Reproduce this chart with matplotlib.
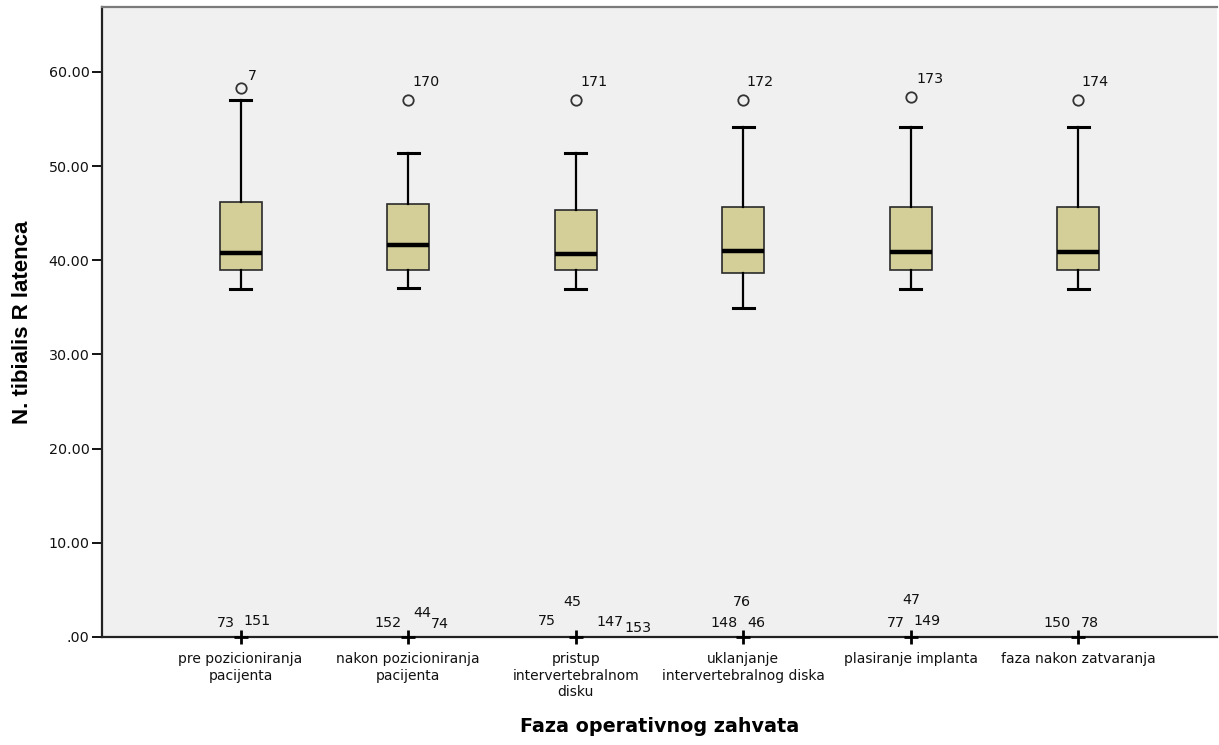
import matplotlib
matplotlib.use("Agg")
import matplotlib.pyplot as plt
from matplotlib.ticker import FuncFormatter, MultipleLocator

# ---- data -------------------------------------------------------------
categories = [
    "pre pozicioniranja\npacijenta",
    "nakon pozicioniranja\npacijenta",
    "pristup\nintervertebralnom\ndisku",
    "uklanjanje\nintervertebralnog diska",
    "plasiranje implanta",
    "faza nakon zatvaranja",
]
whisker_low = [37.0, 37.1, 37.0, 34.9, 37.0, 37.0]
q1 = [39.0, 39.0, 39.0, 38.7, 39.0, 39.0]
median = [40.8, 41.6, 40.7, 41.0, 40.9, 40.9]
q3 = [46.2, 46.0, 45.3, 45.7, 45.7, 45.7]
whisker_high = [57.0, 51.4, 51.4, 54.2, 54.2, 54.2]

outlier_values = [58.3, 57.0, 57.0, 57.0, 57.3, 57.0]
outlier_ids = ["7", "170", "171", "172", "173", "174"]

extreme_value = 0.0
extreme_ids = [
    ["73", "151"],
    ["152", "44", "74"],
    ["75", "45", "147", "153"],
    ["148", "76", "46"],
    ["77", "47", "149"],
    ["150", "78"],
]

# ---- label placement (offsets in pixels from the marker) ---------------
outlier_label_offsets = [(12, 12), (18, 18), (18, 18), (17, 18), (19, 18), (17, 18)]
extreme_label_offsets = [
    [(-14.5, 14), (16.5, 16)],
    [(-20, 14), (14, 24), (32, 12.5)],
    [(-29, 16), (-3, 35), (34.5, 15), (62, 9.5)],
    [(-19.5, 14), (-1, 35), (13, 14)],
    [(-15, 14), (0, 37), (16.5, 16)],
    [(-21, 14), (11.5, 14)],
]

# ---- figure -----------------------------------------------------------
fig = plt.figure(figsize=(12.19, 7.45), dpi=100)
fig.patch.set_facecolor("white")
ax = fig.add_axes([102 / 1219, 108 / 745, 1115 / 1219, 630 / 745])
ax.set_facecolor("#F0F0F0")

positions = list(range(1, len(categories) + 1))
stats = []
for i in range(len(categories)):
    stats.append(dict(
        med=median[i], q1=q1[i], q3=q3[i],
        whislo=whisker_low[i], whishi=whisker_high[i],
        fliers=[outlier_values[i]],
    ))

ax.bxp(
    stats, positions=positions, widths=0.25, patch_artist=True,
    boxprops=dict(facecolor="#D4CF98", edgecolor="#2a2a2a", linewidth=1.2),
    medianprops=dict(color="black", linewidth=3.2),
    whiskerprops=dict(color="black", linewidth=1.6),
    capprops=dict(color="black", linewidth=2.2),
    capwidths=0.125,
    flierprops=dict(marker="o", markersize=7.5, markerfacecolor="none",
                    markeredgecolor="#333333", markeredgewidth=1.3),
    manage_ticks=False, zorder=3,
)

# extreme values
ax.plot(positions, [extreme_value] * len(positions), linestyle="none",
        marker="+", markersize=10, markeredgewidth=2.0, color="black",
        clip_on=False, zorder=5)

label_font = dict(family="DejaVu Sans", fontsize=10.3, color="#111111")
for i, pos in enumerate(positions):
    ax.annotate(outlier_ids[i], (pos, outlier_values[i]),
                xytext=outlier_label_offsets[i], textcoords="offset pixels",
                ha="center", va="center", **label_font)
    for lbl, off in zip(extreme_ids[i], extreme_label_offsets[i]):
        ax.annotate(lbl, (pos, extreme_value), xytext=off,
                    textcoords="offset pixels", ha="center", va="center",
                    annotation_clip=False, **label_font)

# ---- axes -------------------------------------------------------------
ax.set_xlim(0.173, 6.827)
ax.set_ylim(0, 66.9)
ax.yaxis.set_major_locator(MultipleLocator(10))


def fmt(v, _):
    s = f"{v:.2f}"
    return s[1:] if s.startswith("0.") else s


ax.yaxis.set_major_formatter(FuncFormatter(fmt))
ax.tick_params(axis="y", length=7, width=1.3, pad=2, labelsize=10.3,
               labelcolor="#111111")
ax.set_xticks(positions)
ax.set_xticklabels(categories, fontsize=10, linespacing=1.22,
                   color="#111111", family="DejaVu Sans")
ax.tick_params(axis="x", length=0, pad=11)

for side in ("left", "bottom"):
    ax.spines[side].set_color("#222222")
    ax.spines[side].set_linewidth(1.6)
ax.spines["top"].set_color("#7a7a7a")
ax.spines["top"].set_linewidth(1.6)
ax.spines["right"].set_visible(False)

ax.set_xlabel("Faza operativnog zahvata", fontsize=13.8, fontweight="bold",
              family="DejaVu Sans", va="center")
ax.xaxis.set_label_coords(0.5, -(727 - 637) / 630)
ax.set_ylabel("N. tibialis R latenca", fontsize=16, fontweight="bold",
              family="Liberation Sans", va="center")
ax.yaxis.set_label_coords(-(102 - 23) / 1115, 0.5)

fig.savefig("out.png", dpi=100, facecolor="white")
